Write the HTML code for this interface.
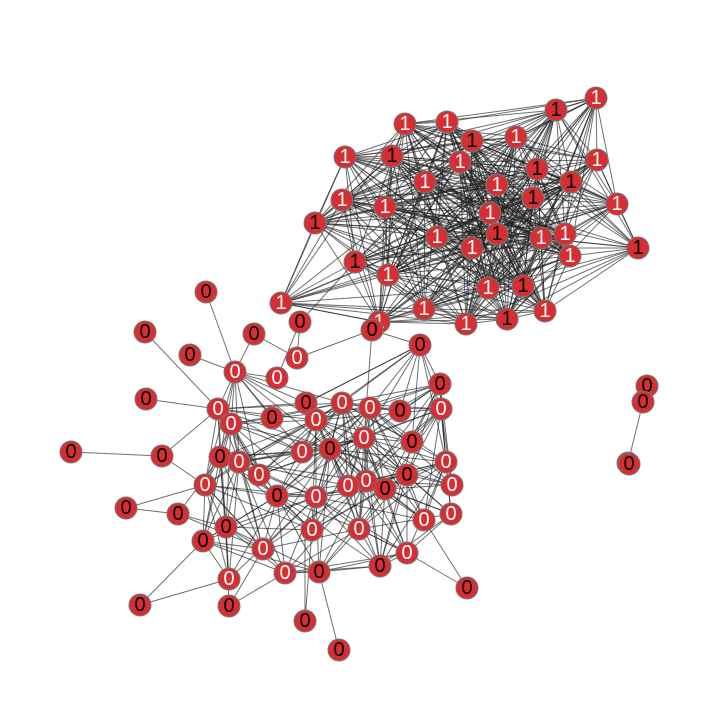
<!DOCTYPE html>
<html><head><meta charset="utf-8"><style>
body{margin:0;background:#fff;}
svg text{font-family:"Liberation Sans",sans-serif;font-size:20px;text-anchor:middle;dominant-baseline:central;}
</style></head>
<body>
<svg id="chart" width="720" height="720" viewBox="0 0 720 720">
<g id="edges"></g>
<g id="nodes"></g>
</svg>
<script>
const xs1=[596,556,405,447,472,516,345,392,460,597,537,425,497,571,342,385,533,617,490,315,437,472,497,541,565,355,388,570,638,281,488,523,424,466,507,545,379];
const ys1=[98,110,124,122,141,137,157,156,162,160,169,182,185,182,200,207,198,204,213,223,237,248,234,238,234,262,275,256,248,303,288,286,309,324,319,311,322];
const xs0=[206,145,300,254,372,190,297,420,235,277,440,146,218,306,342,370,400,441,231,272,316,364,412,71,162,220,239,302,330,446,259,407,366,348,385,205,452,277,316,126,178,424,451,226,312,359,203,263,407,380,229,285,319,467,140,229,305,339];
const ys0=[292,332,322,334,330,355,358,345,372,378,384,399,409,403,403,408,411,409,424,418,420,438,442,452,456,457,462,452,449,462,475,475,481,486,489,485,485,496,497,508,514,520,514,527,530,529,541,549,553,566,579,573,572,588,605,606,621,650];
const xsIso=[647,643,628,629];
const ysIso=[386,402,463,464];
const labels1=xs1.map(()=> '1');
const extraEdges=[[[71,452],[162,456]],[[126,508],[178,514]],[[126,508],[205,485]],[[140,605],[229,579]],[[145,332],[218,409]],[[146,399],[218,409]],[[206,292],[235,372]],[[190,355],[235,372]],[[339,650],[319,572]],[[305,621],[305,529]],[[467,588],[407,553]],[[467,588],[424,520]],[[229,606],[285,573]],[[281,303],[379,322]],[[281,303],[315,223]],[[643,402],[628,463]],[[355,262],[300,322]],[[372,330],[420,345]],[[300,322],[297,358]],[[254,334],[297,358]],[[162,456],[205,485]],[[162,456],[218,409]],[[140,605],[203,541]],[[372,330],[364,438]],[[178,514],[226,527]],[[178,514],[220,457]],[[178,514],[263,549]],[[229,606],[226,527]],[[229,606],[263,549]],[[254,334],[235,372]],[[300,322],[277,378]],[[420,345],[306,403]],[[372,330],[297,358]],[[407,553],[359,529]],[[380,566],[412,442]],[[305,621],[312,530]]];
const NS='http://www.w3.org/2000/svg';
const eg=document.getElementById('edges'),ng=document.getElementById('nodes');
function line(a,b){const l=document.createElementNS(NS,'line');


l.setAttribute('x1',a[0]);l.setAttribute('y1',a[1]);l.setAttribute('x2',b[0]);l.setAttribute('y2',b[1]);
l.setAttribute('stroke','#222');l.setAttribute('stroke-opacity','0.65');l.setAttribute('stroke-width','1');eg.appendChild(l);}
function connect(xs,ys,th,skip){for(let i=0;i<xs.length;i++)for(let j=i+1;j<xs.length;j++){const d=Math.hypot(xs[i]-xs[j],ys[i]-ys[j]);if(d<th&&((i*7+j*3)%skip)!==0)line([xs[i],ys[i]],[xs[j],ys[j]]);}}
connect(xs1,ys1,240,4);
const core=xs0.map((x,i)=>i).filter(i=>xs0[i]>195&&xs0[i]<460&&ys0[i]>340&&ys0[i]<590);
connect(core.map(i=>xs0[i]),core.map(i=>ys0[i]),130,3);
extraEdges.forEach(e=>line(e[0],e[1]));
function node(x,y,t,white){const c=document.createElementNS(NS,'circle');


c.setAttribute('cx',x);c.setAttribute('cy',y);c.setAttribute('r',11);c.setAttribute('fill','#d62f33');c.setAttribute('stroke','#777');c.setAttribute('stroke-width','1');ng.appendChild(c);
const tx=document.createElementNS(NS,'text');


tx.setAttribute('x',x);tx.setAttribute('y',y);tx.setAttribute('fill',white?'#fff':'#000');tx.textContent=t;ng.appendChild(tx);}
xs1.forEach((x,i)=>node(x,ys1[i],labels1[i],i%3!==1));
xs0.forEach((x,i)=>node(x,ys0[i],'0',x>195&&x<460&&ys0[i]>340&&ys0[i]<590&&i%3!==1));
xsIso.forEach((x,i)=>node(x,ysIso[i],'0',false));
</script>
</body></html>
